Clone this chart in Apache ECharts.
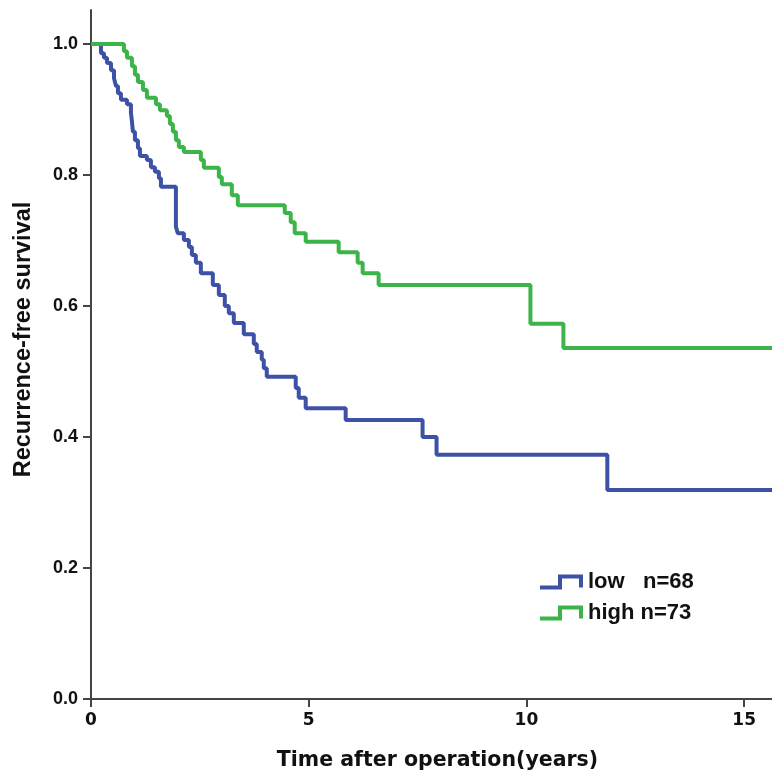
<!DOCTYPE html>
<html>
<head>
<meta charset="utf-8">
<script src="https://cdn.jsdelivr.net/npm/echarts@6/dist/echarts.min.js"></script>
<style>
html,body{margin:0;padding:0;background:#fff;}
#chart{width:772px;height:777px;}
</style>
</head>
<body>
<div id="chart"></div>
<script>
// Kaplan-Meier steps: time (years) and survival after each drop
var lowTimes = [0, 0.229, 0.298, 0.367, 0.459, 0.528, 0.573, 0.619, 0.688, 0.826, 0.917, 0.940, 0.963, 1.009, 1.078, 1.124,
    1.284, 1.376, 1.468, 1.560, 1.606, 1.950, 1.995, 2.133, 2.248, 2.317, 2.408, 2.523, 2.798, 2.936, 3.073, 3.165,
    3.280, 3.509, 3.739, 3.807, 3.922, 3.968, 4.037, 4.702, 4.771, 4.931, 5.849, 7.615, 7.936, 11.858, 15.64];
var lowSurv = [1, 0.986, 0.979, 0.971, 0.960, 0.948, 0.936, 0.925, 0.915, 0.908, 0.895, 0.882, 0.866, 0.853, 0.841, 0.829,
    0.823, 0.812, 0.805, 0.795, 0.782, 0.721, 0.711, 0.701, 0.690, 0.678, 0.666, 0.650, 0.632, 0.617, 0.600, 0.589,
    0.574, 0.557, 0.542, 0.530, 0.518, 0.505, 0.492, 0.475, 0.460, 0.444, 0.426, 0.400, 0.373, 0.319, 0.319];

var highTimes = [0, 0.757, 0.826, 0.940, 1.009, 1.078, 1.193, 1.284, 1.491, 1.583, 1.743, 1.812, 1.881, 1.950, 2.018,
    2.133, 2.523, 2.592, 2.936, 3.005, 3.234, 3.372, 4.450, 4.587, 4.679, 4.931, 5.688, 6.124, 6.239, 6.606, 10.092,
    10.849, 15.64];
var highSurv = [1, 0.989, 0.979, 0.966, 0.953, 0.942, 0.930, 0.918, 0.908, 0.899, 0.890, 0.878, 0.866, 0.853, 0.843,
    0.835, 0.823, 0.811, 0.797, 0.786, 0.769, 0.754, 0.742, 0.728, 0.711, 0.698, 0.682, 0.666, 0.650, 0.632, 0.573,
    0.536, 0.536];

var seriesNames = ['low   n=68', 'high n=73'];
var yTicks = ['0.0', '0.2', '0.4', '0.6', '0.8', '1.0'];

function pairs(xs, ys) {
    var out = [];
    for (var i = 0; i < xs.length; i++) out.push([xs[i], ys[i]]);
    return out;
}

// little step glyph like the SPSS legend
var stepIcon = 'path://M0,11 L18,11 L18,0 L43,0 L43,13 L39,13 L39,4 L22,4 L22,15 L0,15 Z';

var myChart = echarts.init(document.getElementById('chart'));
var option = {
    animation: false,
    backgroundColor: '#fff',
    grid: {left: 91, right: 0, top: 10, bottom: 78},
    legend: {
        orient: 'vertical',
        left: 540,
        top: 571,
        padding: 0,
        itemWidth: 43,
        itemHeight: 15,
        itemGap: 9,
        icon: stepIcon,
        textStyle: {fontFamily: 'Liberation Sans', fontWeight: 'bold', fontSize: 22, color: '#111'},
        data: seriesNames
    },
    xAxis: {
        type: 'value',
        min: 0,
        max: 15.64,
        interval: 5,
        name: 'Time after operation(years)',
        nameLocation: 'middle',
        nameGap: 51,
        nameTextStyle: {fontFamily: 'DejaVu Sans', fontWeight: 'bold', fontSize: 20.5, color: '#111', padding: [0, 0, 0, 12]},
        axisLine: {lineStyle: {color: '#444', width: 2}},
        axisTick: {length: 8, lineStyle: {color: '#444', width: 2}},
        axisLabel: {fontFamily: 'DejaVu Sans', fontWeight: 'bold', fontSize: 17, color: '#111', margin: 13, showMaxLabel: false},
        splitLine: {show: false}
    },
    yAxis: {
        type: 'value',
        min: 0,
        max: 1.052,
        interval: 0.2,
        name: 'Recurrence-free survival',
        nameLocation: 'middle',
        nameGap: 55,
        nameTextStyle: {fontFamily: 'Liberation Sans', fontWeight: 'bold', fontSize: 23.5, color: '#111', padding: [0, 0, 0, 30]},
        axisLine: {show: true, lineStyle: {color: '#444', width: 2}},
        axisTick: {show: true, length: 8, lineStyle: {color: '#444', width: 2}},
        axisLabel: {
            fontFamily: 'Liberation Sans', fontWeight: 'bold', fontSize: 18, color: '#111', margin: 13,
            padding: [6, 0, 0, 0],
            showMaxLabel: false,
            formatter: function (v) { return yTicks[Math.round(v / 0.2)] || ''; }
        },
        splitLine: {show: false}
    },
    series: [
        {
            name: seriesNames[0],
            type: 'line',
            step: 'end',
            symbol: 'none',
            color: '#3d52a6',
            lineStyle: {width: 4, color: '#3d52a6'},
            data: pairs(lowTimes, lowSurv)
        },
        {
            name: seriesNames[1],
            type: 'line',
            step: 'end',
            symbol: 'none',
            color: '#3db44a',
            lineStyle: {width: 4, color: '#3db44a'},
            data: pairs(highTimes, highSurv)
        }
    ]
};
myChart.setOption(option);
</script>
</body>
</html>
